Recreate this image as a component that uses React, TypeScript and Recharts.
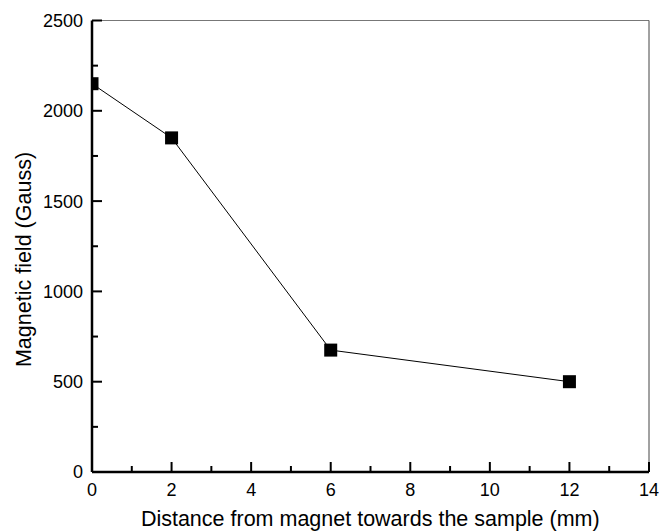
import React from 'react';
import { LineChart, Line, XAxis, YAxis, ReferenceLine, Label } from 'recharts';

const distances = [0, 2, 6, 12];
const fieldValues = [2150, 1850, 675, 500];
const yTicks = [0, 250, 500, 750, 1000, 1250, 1500, 1750, 2000, 2250, 2500];
const xTicks = [0, 1, 2, 3, 4, 5, 6, 7, 8, 9, 10, 11, 12, 13, 14];
const xTitle = 'Distance from magnet towards the sample (mm)';
const yTitle = 'Magnetic field (Gauss)';

const data = distances.map((d, i) => ({ distance: d, field: fieldValues[i] }));

const FONT = "Arial, 'Liberation Sans', Helvetica, sans-serif";
const Y_MARGIN = 9;
const X_MARGIN = 11;

const YTick = (props: any) => {
  const { x, y, payload } = props;
  const v = payload.value;
  const major = v % 500 === 0;
  const ax = x + Y_MARGIN;
  return (
    <g>
      <line x1={ax} x2={ax + (major ? 10 : 6)} y1={y} y2={y} stroke="#000" strokeWidth={2} />
      {major && (
        <text x={x} y={y} dy="0.36em" textAnchor="end" fontSize={18} fontFamily={FONT} fill="#000">
          {v}
        </text>
      )}
    </g>
  );
};

const XTick = (props: any) => {
  const { x, y, payload } = props;
  const v = payload.value;
  const major = v % 2 === 0;
  const ay = y - X_MARGIN;
  return (
    <g>
      <line x1={x} x2={x} y1={ay} y2={ay - (major ? 10 : 6)} stroke="#000" strokeWidth={2} />
      {major && (
        <text x={x} y={y} dy="0.71em" textAnchor="middle" fontSize={18} fontFamily={FONT} fill="#000">
          {v}
        </text>
      )}
    </g>
  );
};

const Marker = (props: any) => {
  const { cx, cy, index, payload } = props;
  if (cx == null || cy == null) return <g key={`m-${index}`} />;
  const half = 6.5;
  const left = payload && payload.distance === 0 ? cx - 1 : cx - half;
  return <rect key={`m-${index}`} x={left} y={cy - half} width={cx + half - left} height={half * 2} fill="#000" />;
};

export default function App() {
  return (
    <div style={{ position: 'absolute', left: 0, top: 0, width: 659, height: 531, background: '#fff' }}>
      <LineChart
        width={659}
        height={531}
        data={data}
        margin={{ top: 20.5, right: 10, bottom: 0, left: 0 }}
      >
        <ReferenceLine y={2500} stroke="#777" strokeWidth={1} />
        <ReferenceLine x={14} stroke="#444" strokeWidth={1} />
        <XAxis
          dataKey="distance"
          type="number"
          domain={[0, 14]}
          ticks={xTicks}
          interval={0}
          height={59}
          tickSize={0}
          tickMargin={X_MARGIN}
          tickLine={false}
          axisLine={{ stroke: '#000', strokeWidth: 2.5 }}
          tick={<XTick />}
        >
          <Label
            content={() => (
              <text x={370.3} y={525.5} textAnchor="middle" fontSize={21.5} fontFamily={FONT} fill="#000">
                {xTitle}
              </text>
            )}
          />
        </XAxis>
        <YAxis
          type="number"
          domain={[0, 2500]}
          ticks={yTicks}
          interval={0}
          width={92}
          tickSize={0}
          tickMargin={Y_MARGIN}
          tickLine={false}
          axisLine={{ stroke: '#000', strokeWidth: 2.5 }}
          tick={<YTick />}
        >
          <Label
            content={() => (
              <text
                x={0}
                y={0}
                transform="translate(30.5, 259.5) rotate(-90)"
                textAnchor="middle"
                fontSize={21.5}
                fontFamily={FONT}
                fill="#000"
              >
                {yTitle}
              </text>
            )}
          />
        </YAxis>
        <Line
          type="linear"
          dataKey="field"
          stroke="#000"
          strokeWidth={1}
          dot={Marker}
          activeDot={false}
          isAnimationActive={false}
        />
      </LineChart>
    </div>
  );
}
